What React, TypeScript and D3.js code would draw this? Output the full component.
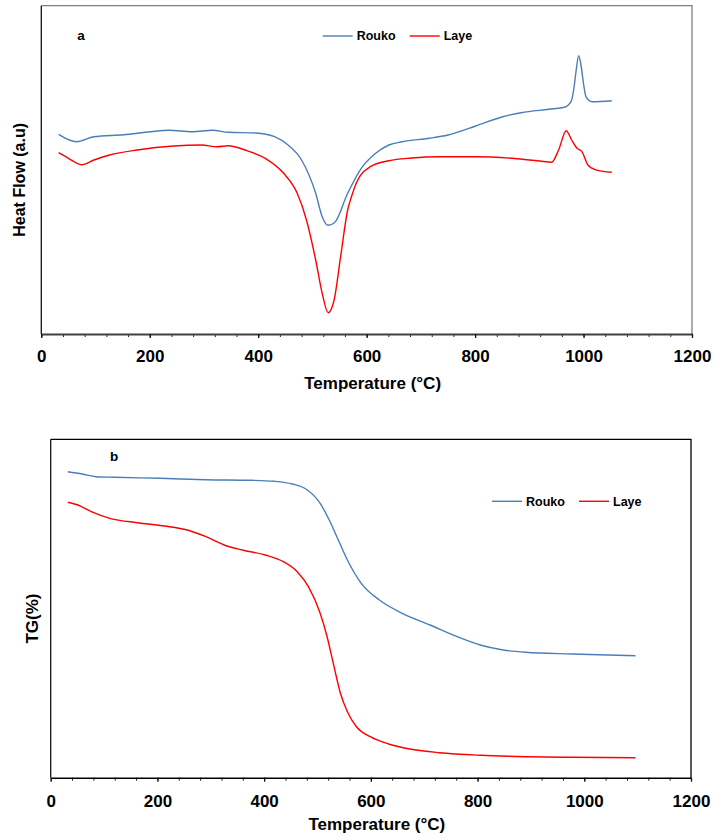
import React, { useRef, useEffect } from 'react';
import * as d3 from 'd3';

// Panel a: DSC curves (temperature in °C, heat flow in arbitrary units)
const dscRoukoTemp = [32, 65, 97, 152, 202, 236, 278, 316, 345, 396, 430, 455, 480, 506, 518, 529, 541, 565, 590, 615, 641, 666, 716, 750, 801, 851, 885, 936, 965, 972, 978, 982, 986, 991, 995, 1000, 1004, 1010, 1016, 1052];
const dscRoukoHeat = [199.7, 192.3, 197.3, 199.3, 202.3, 203.7, 202.3, 203.7, 201.7, 201, 197.3, 189, 174, 140.7, 117.3, 108.7, 111.5, 140.7, 165.7, 180, 189, 192.3, 195.7, 199, 208, 217.3, 221.3, 224.7, 226.7, 229, 234, 245, 262, 278.3, 270, 250, 238, 233.5, 232.3, 233.3];

const dscLayeTemp = [32, 50, 74, 97, 126, 177, 244, 295, 324, 345, 379, 413, 447, 472, 489, 506, 518, 529, 540, 552, 565, 572, 582, 607, 641, 683, 733, 801, 877, 919, 941, 954, 968, 978, 988, 997, 1008, 1020, 1052];
const dscLayeHeat = [181.3, 175.7, 169.3, 174, 179, 184, 188, 189, 187.3, 188.3, 183.3, 175.7, 160.7, 140.7, 114, 74, 40.7, 21.3, 34, 77.3, 124, 137.3, 152.3, 167.3, 173.3, 176, 177.3, 177.3, 175.3, 173, 171.7, 184, 203.3, 194, 185.7, 182.3, 169, 164.7, 161.7];

// Panel b: TG curves (temperature in °C, mass in arbitrary units)
const tgRoukoTemp = [32, 59, 85, 119, 205, 291, 376, 419, 453, 479, 505, 522, 539, 556, 582, 616, 659, 711, 762, 805, 848, 890, 976, 1096];
const tgRoukoMass = [306, 303.7, 301, 300.4, 299.4, 298, 297.4, 296.4, 293.7, 288.4, 274.4, 257.7, 237.7, 217.7, 194.4, 177.7, 164.4, 152.7, 141, 132.7, 127.7, 125.4, 123.7, 122];

const tgLayeTemp = [32, 51, 76, 111, 162, 214, 256, 291, 325, 359, 402, 436, 462, 483, 505, 518, 531, 543, 556, 573, 599, 633, 676, 728, 805, 890, 976, 1096];
const tgLayeMass = [275.4, 272.7, 266, 259.4, 255, 251.7, 247.7, 241, 232.7, 227.7, 222.7, 216, 206, 191, 164.4, 141, 111, 84.4, 66, 51, 41, 33.7, 28.4, 25, 22.4, 21, 20.4, 20];

const seriesNames = ['Rouko', 'Laye'];
const seriesColors = ['#4a7ebb', '#ff0000'];
const xMajorTicks = [0, 200, 400, 600, 800, 1000, 1200];

const FONT = 'Arial, "Liberation Sans", sans-serif';

const zip = (xs, ys) => xs.map((x, i) => [x, ys[i]]);

function drawPanel(svg, opt) {
  const { left, right, top, bottom, yMax, series, letter, letterPos, legendX, legendY, yTitle, yTitleX, yTitleSize, titleOffset, frameLight, labelPad } = opt;

  const x = d3.scaleLinear().domain([0, 1200]).range([left, right]);
  const y = d3.scaleLinear().domain([0, yMax]).range([bottom, top]);

  const g = svg.append('g');

  // frame: top + right
  g.append('path')
    .attr('d', `M${left},${top}H${right}V${bottom}`)
    .attr('fill', 'none')
    .attr('stroke', frameLight ? '#7f7f7f' : '#000')
    .attr('stroke-width', 1.3);
  // left axis line
  g.append('line')
    .attr('x1', left).attr('x2', left)
    .attr('y1', top).attr('y2', bottom)
    .attr('stroke', '#111')
    .attr('stroke-width', 1.3);

  // minor ticks every 40
  const minorAxis = d3.axisBottom(x)
    .tickValues(d3.range(0, 1201, 40))
    .tickSize(3)
    .tickFormat(() => '');
  g.append('g')
    .attr('transform', `translate(0,${bottom})`)
    .call(minorAxis)
    .call(a => a.select('.domain').remove())
    .selectAll('line').attr('stroke', '#222').attr('stroke-width', 1);

  const majorAxis = d3.axisBottom(x)
    .tickValues(xMajorTicks)
    .tickSize(4)
    .tickPadding(labelPad)
    .tickSizeOuter(0)
    .tickFormat(d3.format('d'));
  const ax = g.append('g')
    .attr('transform', `translate(0,${bottom})`)
    .call(majorAxis);
  ax.select('.domain')
    .attr('stroke', frameLight ? '#404040' : '#000')
    .attr('stroke-width', frameLight ? 2 : 1.5);
  ax.selectAll('.tick line').attr('stroke', '#111').attr('stroke-width', 1.3);
  ax.selectAll('text')
    .attr('fill', '#000')
    .style('font-family', FONT)
    .style('font-size', '17px')
    .style('font-weight', 'bold');

  // x title
  g.append('text')
    .attr('x', (left + right) / 2 + 6)
    .attr('y', bottom + titleOffset)
    .attr('text-anchor', 'middle')
    .style('font-family', FONT)
    .style('font-size', '17px')
    .style('font-weight', 'bold')
    .text('Temperature (°C)');

  // y title
  g.append('text')
    .attr('transform', `translate(${yTitleX},${(top + bottom) / 2 + 10}) rotate(-90)`)
    .attr('text-anchor', 'middle')
    .attr('dy', '0.35em')
    .style('font-family', FONT)
    .style('font-size', `${yTitleSize}px`)
    .style('font-weight', 'bold')
    .text(yTitle);

  // panel letter
  g.append('text')
    .attr('x', letterPos[0]).attr('y', letterPos[1])
    .attr('text-anchor', 'middle')
    .attr('dy', '0.35em')
    .style('font-family', FONT)
    .style('font-size', '13.5px')
    .style('font-weight', 'bold')
    .text(letter);

  const line = d3.line()
    .x(d => x(d[0]))
    .y(d => y(d[1]))
    .curve(d3.curveMonotoneX);

  series.forEach((pts, i) => {
    g.append('path')
      .datum(pts)
      .attr('fill', 'none')
      .attr('stroke', seriesColors[i])
      .attr('stroke-width', 1.4)
      .attr('d', line);
  });

  // legend
  const legend = g.append('g').attr('transform', `translate(${legendX},${legendY})`);
  const legendStep = [0, 87];
  seriesNames.forEach((name, i) => {
    const item = legend.append('g').attr('transform', `translate(${legendStep[i]},0)`);
    item.append('line')
      .attr('x1', 0).attr('x2', 30)
      .attr('y1', 0).attr('y2', 0)
      .attr('stroke', seriesColors[i])
      .attr('stroke-width', 1.4);
    item.append('text')
      .attr('x', 34).attr('dy', '0.35em')
      .style('font-family', FONT)
      .style('font-size', '12.5px')
      .style('font-weight', 'bold')
      .text(name);
  });
}

const ThermalCharts = () => {
  const svgRef = useRef(null);

  useEffect(() => {
    const svg = d3.select(svgRef.current);
    svg.selectAll('*').remove();

    drawPanel(svg, {
      left: 41.3, right: 692, top: 5.7, bottom: 334,
      yMax: 328.3,
      series: [zip(dscRoukoTemp, dscRoukoHeat), zip(dscLayeTemp, dscLayeHeat)],
      letter: 'a', letterPos: [81, 35],
      legendX: 322.7, legendY: 36,
      yTitle: 'Heat Flow (a.u)', yTitleX: 19, yTitleSize: 16,
      titleOffset: 55,
      frameLight: true, labelPad: 12,
    });

    drawPanel(svg, {
      left: 50.7, right: 691, top: 439.3, bottom: 777.7,
      yMax: 338.4,
      series: [zip(tgRoukoTemp, tgRoukoMass), zip(tgLayeTemp, tgLayeMass)],
      letter: 'b', letterPos: [114, 456],
      legendX: 492, legendY: 501.3,
      yTitle: 'TG(%)', yTitleX: 32.5, yTitleSize: 17,
      titleOffset: 52,
      frameLight: false, labelPad: 13,
    });
  }, []);

  return (
    <svg
      ref={svgRef}
      width={716}
      height={839}
      style={{ position: 'absolute', left: 0, top: 0, background: '#fff' }}
    />
  );
};

export default function App() {
  return <ThermalCharts />;
}
